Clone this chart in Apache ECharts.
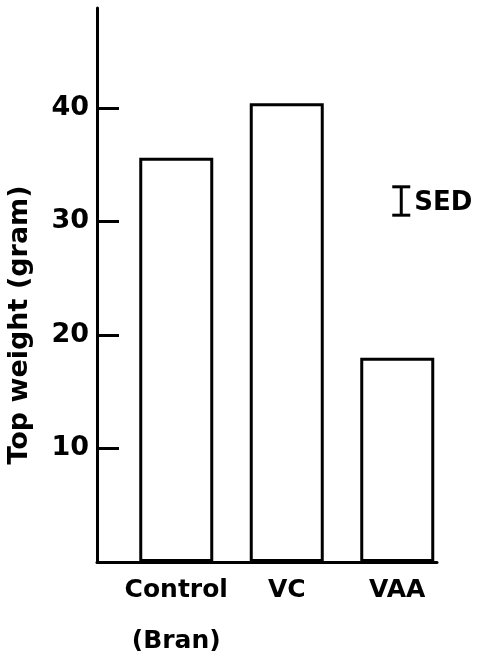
<!DOCTYPE html>
<html>
<head>
<meta charset="utf-8">
<title>Top weight</title>
<script src="https://cdn.jsdelivr.net/npm/echarts@6/dist/echarts.min.js"></script>
<style>
  html, body { margin: 0; padding: 0; background: #fff; }
  #chart { width: 477px; height: 651px; }
</style>
</head>
<body>
<div id="chart"></div>
<script>
// Treatments and mean top weight (gram)
const categories = ['Control\n(Bran)', 'VC', 'VAA'];
const topWeight = [35.6, 40.4, 18.0];
const yTickValues = [10, 20, 30, 40];

// Standard error of difference, drawn as a key bar beside the VAA column
const sedCategoryIndex = 2;
const sedCentre = 31.8;
const sedValue = 2.5;

const FONT = 'DejaVu Sans';
const INK = '#000';

const chart = echarts.init(document.getElementById('chart'), null, { renderer: 'canvas' });

chart.setOption({
  backgroundColor: '#fff',
  animation: false,
  grid: [
    { left: 121, right: 24.5, top: 8, bottom: 89, containLabel: false, outerBoundsMode: 'none' },
    { left: 97, right: 40, top: 8, bottom: 89, containLabel: false, outerBoundsMode: 'none' }
  ],
  xAxis: [
    {
      type: 'category',
      gridIndex: 0,
      data: categories,
      axisLine: { show: false },
      axisTick: { show: false },
      axisLabel: {
        interval: 0,
        color: INK,
        fontFamily: FONT,
        fontWeight: 'bold',
        fontSize: 25,
        lineHeight: 51,
        margin: 3
      }
    },
    {
      // baseline running from the y axis to the last column
      type: 'value',
      gridIndex: 1,
      min: 0,
      max: 1,
      axisLine: { show: true, lineStyle: { color: INK, width: 3 } },
      axisTick: { show: false },
      axisLabel: { show: false },
      splitLine: { show: false }
    }
  ],
  yAxis: [
    {
      type: 'value',
      gridIndex: 0,
      min: 0,
      max: 48.8,
      offset: 24,
      name: 'Top weight (gram)',
      nameLocation: 'middle',
      nameGap: 64,
      nameRotate: 90,
      nameTextStyle: {
        color: INK,
        fontFamily: FONT,
        fontWeight: 'bold',
        fontSize: 27,
        padding: [0, 80, 0, 0]
      },
      axisLine: { show: true, lineStyle: { color: INK, width: 3 } },
      axisTick: {
        show: true,
        inside: true,
        length: 22,
        customValues: yTickValues,
        lineStyle: { color: INK, width: 3 }
      },
      axisLabel: {
        color: INK,
        fontFamily: FONT,
        fontWeight: 'bold',
        fontSize: 27,
        margin: 8,
        customValues: yTickValues
      },
      splitLine: { show: false }
    },
    {
      type: 'value',
      gridIndex: 1,
      min: 0,
      max: 1,
      show: false
    }
  ],
  series: [
    {
      type: 'bar',
      xAxisIndex: 0,
      yAxisIndex: 0,
      data: topWeight,
      barWidth: 74,
      itemStyle: {
        color: '#fff',
        borderColor: INK,
        borderWidth: 3
      },
      silent: true
    },
    {
      type: 'custom',
      xAxisIndex: 0,
      yAxisIndex: 0,
      data: [[sedCategoryIndex, sedCentre, sedValue]],
      silent: true,
      renderItem: function (params, api) {
        const cx = api.value(0);
        const mid = api.value(1);
        const half = api.value(2) / 2;
        const top = api.coord([cx, mid + half]);
        const bot = api.coord([cx, mid - half]);
        const x = top[0] + 4;
        const capHalf = 9;
        const line = { stroke: INK, lineWidth: 3 };
        return {
          type: 'group',
          children: [
            { type: 'line', shape: { x1: x, y1: top[1], x2: x, y2: bot[1] }, style: line },
            { type: 'line', shape: { x1: x - capHalf, y1: top[1], x2: x + capHalf, y2: top[1] }, style: line },
            { type: 'line', shape: { x1: x - capHalf, y1: bot[1], x2: x + capHalf, y2: bot[1] }, style: line },
            {
              type: 'text',
              x: x + 13,
              y: (top[1] + bot[1]) / 2 + 2,
              style: {
                text: 'SED',
                fill: INK,
                font: 'bold 26px "' + FONT + '"',
                textAlign: 'left',
                textVerticalAlign: 'middle'
              }
            }
          ]
        };
      }
    }
  ]
});
</script>
</body>
</html>
